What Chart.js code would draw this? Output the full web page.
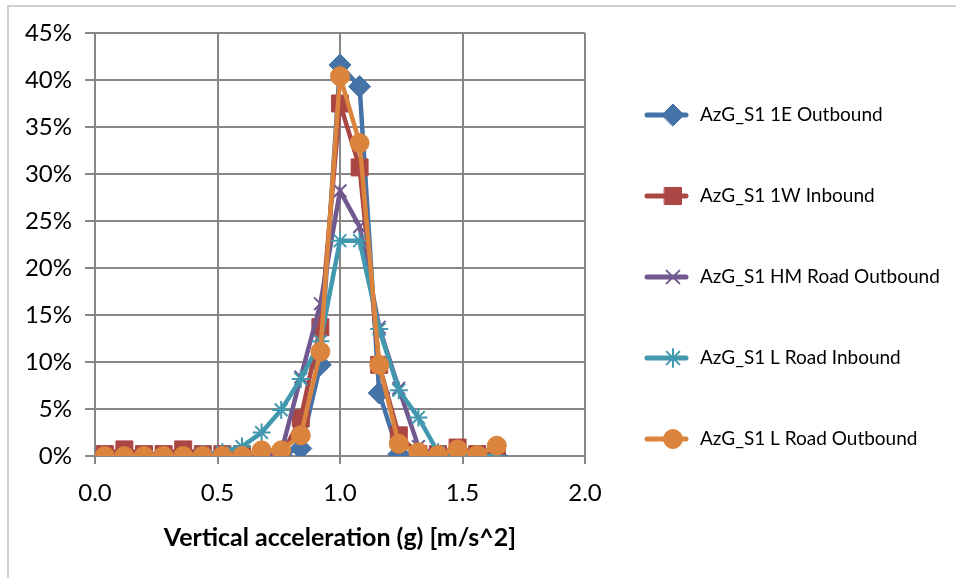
<!DOCTYPE html>
<html>
<head>
<meta charset="utf-8">
<style>
  html, body { margin: 0; padding: 0; background: #fff; overflow: hidden; }
  #wrap { position: relative; width: 956px; height: 578px; }
  #frame { position: absolute; left: 7px; top: 5px; width: 960px; height: 580px;
           border-top: 2px solid #cfcfcf; border-left: 2px solid #cfcfcf; }
  canvas { position: absolute; left: 0; top: 0; }
</style>
<script src="https://cdn.jsdelivr.net/npm/chart.js@4/dist/chart.umd.min.js"></script>
</head>
<body>
<div id="wrap">
  <div id="frame"></div>
  <canvas id="chart" width="956" height="578"></canvas>
</div>
<script>
// bin centres on the x axis (g)
const xValues = [0.04, 0.12, 0.20, 0.28, 0.36, 0.44, 0.52, 0.60, 0.68, 0.76, 0.84,
                 0.92, 1.00, 1.08, 1.16, 1.24, 1.32, 1.40, 1.48, 1.56, 1.64];

// share of samples in each bin (%)
const s1EOutbound    = [0, 0, 0, 0, 0, 0, 0, 0, 0, 0.2, 0.8, 9.7, 41.6, 39.3, 6.7, 0.2, 0.3, 0, 0, 0, 0];
const s1WInbound     = [0.2, 0.7, 0.2, 0.2, 0.7, 0.2, 0.2, 0.2, 0, 0, 4.0, 13.7, 37.5, 30.7, 9.7, 2.2, 0.2, 0.2, 0.9, 0.2, 0.1];
const sHMRoadOut     = [0, 0, 0, 0, 0, 0, 0, 0, 0, 0.4, 8.4, 16.2, 28.2, 24.4, 13.7, 7.2, 1.0, 0, 0, 0, 0];
const sLRoadIn       = [0, 0, 0, 0, 0, 0.2, 0.4, 1.0, 2.5, 4.9, 8.2, 12.2, 22.9, 22.9, 13.5, 7.0, 4.1, 0.4, 0, 0, 0];
const sLRoadOut      = [0, 0, 0, 0, 0, 0, 0, 0, 0.6, 0.6, 2.2, 11.1, 40.4, 33.3, 9.7, 1.3, 0.4, 0.1, 0.7, 0.1, 1.1];

const seriesNames = ['AzG_S1 1E Outbound', 'AzG_S1 1W Inbound', 'AzG_S1 HM Road Outbound',
                     'AzG_S1 L Road Inbound', 'AzG_S1 L Road Outbound'];
const seriesData = [s1EOutbound, s1WInbound, sHMRoadOut, sLRoadIn, sLRoadOut];
const seriesColors = ['#4572A7', '#AA4643', '#71588F', '#4198AF', '#DB843D'];
const seriesMarkers = ['rectRot', 'rect', 'crossRot', 'star', 'circle'];
const markerSizes = [11, 12, 9, 9, 9.5];

const xTicks = { min: 0, max: 2, step: 0.5 };
const yTicks = { min: 0, max: 45, step: 5 };

const FONT = 'Lato, "Open Sans", sans-serif';
const GRID = '#878787';

const datasets = seriesData.map((vals, i) => {
  const lineMarker = seriesMarkers[i] === 'crossRot' || seriesMarkers[i] === 'star';
  return {
    label: seriesNames[i],
    data: vals.map((v, j) => ({ x: xValues[j], y: v })),
    borderColor: seriesColors[i],
    backgroundColor: seriesColors[i],
    borderWidth: 4.5,
    pointStyle: seriesMarkers[i],
    pointRadius: markerSizes[i],
    pointBorderWidth: lineMarker ? 2 : 1,
    pointBorderColor: seriesColors[i],
    pointBackgroundColor: seriesColors[i],
    tension: 0,
    order: seriesData.length - i
  };
});

// legend on the right: line with marker, then the name
const sideLegend = {
  id: 'sideLegend',
  afterDraw(chart) {
    const ctx = chart.ctx;
    ctx.save();
    seriesNames.forEach((name, i) => {
      const y = 115 + i * 81;
      const col = seriesColors[i];
      ctx.strokeStyle = col;
      ctx.lineWidth = 5;
      ctx.lineCap = 'round';
      ctx.beginPath();
      ctx.moveTo(647, y);
      ctx.lineTo(686, y);
      ctx.stroke();
      const lineMarker = seriesMarkers[i] === 'crossRot' || seriesMarkers[i] === 'star';
      ctx.lineWidth = lineMarker ? 2 : 1;
      ctx.fillStyle = col;
      Chart.helpers.drawPoint(ctx, { pointStyle: seriesMarkers[i], radius: markerSizes[i], borderWidth: ctx.lineWidth }, 673, y);
      ctx.fillStyle = '#000';
      ctx.font = '19px ' + FONT;
      ctx.textBaseline = 'middle';
      ctx.textAlign = 'left';
      ctx.fillText(name, 700, y);
    });
    ctx.restore();
  }
};

new Chart(document.getElementById('chart'), {
  type: 'line',
  data: { datasets },
  plugins: [sideLegend],
  options: {
    responsive: false,
    animation: false,
    layout: { padding: { top: 33, right: 371, left: 0, bottom: 0 } },
    plugins: { legend: { display: false }, tooltip: { enabled: false } },
    scales: {
      x: {
        type: 'linear',
        min: xTicks.min,
        max: xTicks.max,
        afterFit(scale) { scale.height = 122; },
        grid: { color: GRID, lineWidth: 2, tickLength: 8, tickColor: GRID },
        border: { color: GRID, width: 2 },
        ticks: {
          stepSize: xTicks.step,
          padding: 15,
          color: '#000',
          font: { family: FONT, size: 24 },
          callback: v => v.toFixed(1)
        },
        title: {
          display: true,
          text: 'Vertical acceleration (g) [m/s^2]',
          color: '#000',
          font: { family: FONT, size: 25, weight: 'bold' },
          padding: { top: 0, bottom: 25 }
        }
      },
      y: {
        min: yTicks.min,
        max: yTicks.max,
        afterFit(scale) { scale.width = 95; },
        grid: { color: GRID, lineWidth: 2, tickLength: 10, tickColor: GRID },
        border: { color: GRID, width: 2 },
        ticks: {
          stepSize: yTicks.step,
          padding: 13,
          color: '#000',
          font: { family: FONT, size: 24 },
          callback: v => v + '%'
        }
      }
    }
  }
});
</script>
</body>
</html>
